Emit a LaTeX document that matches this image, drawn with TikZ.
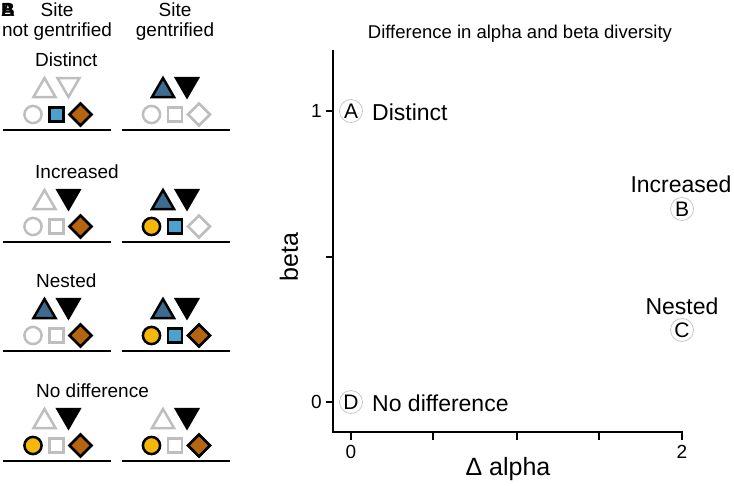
\documentclass[tikz,border=0pt]{standalone}
\usepackage{fontspec}
\setmainfont{Liberation Sans}
\definecolor{shgrey}{RGB}{190,190,190}
\definecolor{dblue}{RGB}{62,108,145}
\definecolor{lblue}{RGB}{74,163,205}
\definecolor{dbrown}{RGB}{181,101,15}
\definecolor{syel}{RGB}{245,183,10}
\definecolor{cgrey}{RGB}{200,200,200}
\newcommand\myUp[3]{\draw[#1,shift={(#2,#3)}] (-11,0) -- (11,0) -- (0,-19) -- cycle;}
\newcommand\myDn[3]{\draw[#1,shift={(#2,#3)}] (-11,-19) -- (11,-19) -- (0,0) -- cycle;}
\newcommand\myCirc[3]{\draw[#1] (#2,#3) circle (8.6);}
\newcommand\mySq[3]{\draw[#1,shift={(#2,#3)}] (-7,-7) rectangle (7,7);}
\newcommand\myDia[3]{\draw[#1,shift={(#2,#3)}] (-11,0) -- (0,-11) -- (11,0) -- (0,11) -- cycle;}
% one group: #1 x offset, #2 baseline, styles #3 up, #4 down, #5 circle, #6 square, #7 diamond
\newcommand\myGroup[7]{%
  \myUp{#3}{#1+44.5}{#2-33}
  \myDn{#4}{#1+68.5}{#2-33}
  \myCirc{#5}{#1+33}{#2-15.5}
  \mySq{#6}{#1+56.5}{#2-15.5}
  \myDia{#7}{#1+80.5}{#2-15.5}
  \draw[baseln] (#1+3,#2) -- (#1+111,#2);}
\begin{document}
\begin{tikzpicture}[x=1pt,y=-1pt,
  gry/.style={draw=shgrey,line width=2.5pt,fill=white},
  blk/.style={draw=black,fill=black,line width=2.5pt},
  tbl/.style={draw=black,fill=dblue,line width=2.5pt},
  sbl/.style={draw=black,fill=lblue,line width=2.5pt},
  brn/.style={draw=black,fill=dbrown,line width=2.5pt},
  yel/.style={draw=black,fill=syel,line width=2.5pt},
  baseln/.style={draw=black,line width=2.6pt},
  axisln/.style={draw=black,line width=2.6pt},
  small/.style={font=\fontsize{19}{21}\selectfont,inner sep=0pt},
  big/.style={font=\fontsize{23}{25}\selectfont,inner sep=0pt},
  axlab/.style={font=\fontsize{25}{27}\selectfont,inner sep=0pt},
  letter/.style={circle,draw=cgrey,line width=0.8pt,minimum size=23pt,inner sep=0pt,font=\fontsize{21}{21}\selectfont},
  ]
\useasboundingbox (0,0) rectangle (734,485);
% corner panel letters
\node[anchor=base,inner sep=0pt,font=\fontsize{19}{19}\bfseries] (cA) at (8,16) {A};
\node[anchor=base,inner sep=0pt,font=\fontsize{19}{19}\bfseries] (cB) at (8,16) {B};
% column headers
\node[small,anchor=base] (h1a) at (57,16) {Site};
\node[small,anchor=base] (h1b) at (57,36) {not gentrified};
\node[small,anchor=base] (h2a) at (175,16) {Site};
\node[small,anchor=base] (h2b) at (175,36) {gentrified};
% panel labels
\node[small,anchor=base west] (l1) at (35,66) {Distinct};
\node[small,anchor=base west] (l2) at (35,178) {Increased};
\node[small,anchor=base west] (l3) at (36,287) {Nested};
\node[small,anchor=base west] (l4) at (36,397) {No difference};
% panel 1 Distinct
\myGroup{0}{130}{gry}{gry}{gry}{sbl}{brn}
\myGroup{118.5}{130}{tbl}{blk}{gry}{gry}{gry}
% panel 2 Increased
\myGroup{0}{242}{gry}{blk}{gry}{gry}{brn}
\myGroup{118.5}{242}{tbl}{blk}{yel}{sbl}{gry}
% panel 3 Nested
\myGroup{0}{351}{tbl}{blk}{gry}{gry}{brn}
\myGroup{118.5}{351}{tbl}{blk}{yel}{sbl}{brn}
% panel 4 No difference
\myGroup{0}{461}{gry}{blk}{yel}{gry}{brn}
\myGroup{118.5}{461}{gry}{blk}{yel}{gry}{brn}
% plot
\node[anchor=base,inner sep=0pt,font=\fontsize{18.5}{20}\selectfont] (title) at (520,38) {Difference in alpha and beta diversity};
\coordinate (ytop) at (333,50);
\coordinate (orig) at (333,432);
\coordinate (xend) at (683,432);
\draw[axisln] (ytop) -- (orig) -- (xend);
\foreach \xx in {351,433,517,599,682} \draw[axisln] (\xx,432) -- (\xx,440);
\foreach \yy in {111,257,402} \draw[axisln] (333,\yy) -- (326,\yy);
\node[small,anchor=east] (y1) at (322,111) {1};
\node[small,anchor=east] (y0) at (322,402) {0};
\node[small,anchor=north] (x0) at (351,445) {0};
\node[small,anchor=north] (x2) at (682,445) {2};
\node[axlab] (xlab) at (508,469) {Δ alpha};
\node[axlab,rotate=90] (ylab) at (289,257) {beta};
\node[letter] (A) at (351,111) {A};
\node[letter] (D) at (351,402) {D};
\node[letter] (B) at (682,209) {B};
\node[letter] (C) at (682,330) {C};
\node[big,anchor=base west] (tA) at (372,120) {Distinct};
\node[big,anchor=base west] (tD) at (372,411) {No difference};
\node[big,anchor=base] (tB) at (681,192) {Increased};
\node[big,anchor=base] (tC) at (682,314) {Nested};
\end{tikzpicture}
\end{document}
